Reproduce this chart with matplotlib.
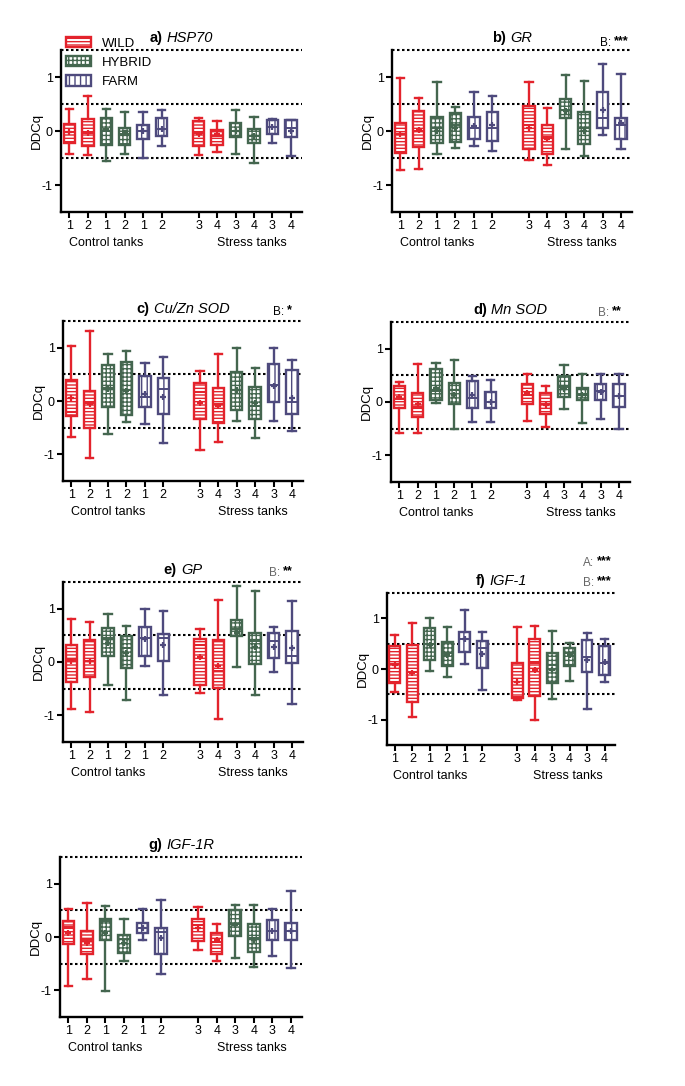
import matplotlib
matplotlib.use('Agg')  # Non-interactive backend
import matplotlib.pyplot as plt
from matplotlib.patches import Patch
from matplotlib.offsetbox import TextArea, HPacker, AnchoredOffsetbox

plt.rcParams['font.family'] = ['Liberation Sans', 'DejaVu Sans']
plt.rcParams['axes.unicode_minus'] = False
plt.rcParams['hatch.linewidth'] = 1.0

W, H = 685, 1086

# groups / categories
groups = ['WILD', 'HYBRID', 'FARM']
colors = {'WILD': '#e3232c', 'HYBRID': '#44664f', 'FARM': '#4e4a7d'}
hatches = {'WILD': '-----', 'HYBRID': '++++', 'FARM': '|||'}
tank_labels = ['1', '2', '1', '2', '1', '2', '3', '4', '3', '4', '3', '4']
box_group = ['WILD', 'WILD', 'HYBRID', 'HYBRID', 'FARM', 'FARM'] * 2
positions = [0, 1, 2, 3, 4, 5, 7, 8, 9, 10, 11, 12]

# box statistics per gene (12 boxes: control W1 W2 H1 H2 F1 F2, stress W3 W4 H3 H4 F3 F4)
hsp70 = dict(
    lo=[-0.43, -0.45, -0.56, -0.42, -0.50, -0.28, -0.45, -0.39, -0.42, -0.60, -0.23, -0.47],
    q1=[-0.22, -0.28, -0.25, -0.25, -0.15, -0.09, -0.28, -0.25, -0.12, -0.22, -0.06, -0.12],
    med=[-0.02, -0.03, 0.00, -0.06, 0.00, 0.03, -0.03, -0.09, 0.00, -0.09, 0.07, 0.06],
    q3=[0.13, 0.22, 0.25, 0.06, 0.12, 0.25, 0.19, 0.01, 0.14, 0.03, 0.20, 0.20],
    hi=[0.40, 0.65, 0.40, 0.35, 0.35, 0.38, 0.25, 0.19, 0.38, 0.26, 0.22, 0.20],
    mean=[-0.02, -0.03, 0.03, -0.03, 0.00, 0.03, -0.06, -0.06, 0.00, -0.09, 0.07, 0.00],
)
gr = dict(
    lo=[-0.72, -0.71, -0.42, -0.31, -0.27, -0.37, -0.53, -0.63, -0.34, -0.46, -0.08, -0.34],
    q1=[-0.40, -0.30, -0.22, -0.20, -0.14, -0.19, -0.34, -0.43, 0.25, -0.24, 0.06, -0.15],
    med=[-0.06, 0.00, 0.06, 0.12, 0.05, 0.06, 0.12, -0.12, 0.38, 0.06, 0.25, 0.11],
    q3=[0.15, 0.37, 0.26, 0.34, 0.26, 0.36, 0.46, 0.11, 0.60, 0.36, 0.72, 0.25],
    hi=[0.99, 0.61, 0.90, 0.45, 0.72, 0.65, 0.90, 0.42, 1.03, 0.93, 1.24, 1.05],
    mean=[-0.06, 0.02, 0.00, 0.06, 0.09, 0.11, 0.05, -0.14, 0.37, 0.00, 0.38, 0.15],
)
cuzn_sod = dict(
    lo=[-0.67, -1.06, -0.61, -0.39, -0.43, -0.79, -0.92, -0.76, -0.37, -0.69, -0.37, -0.56],
    q1=[-0.29, -0.51, -0.12, -0.26, -0.11, -0.24, -0.33, -0.42, -0.17, -0.34, -0.01, -0.24],
    med=[-0.20, -0.04, 0.24, 0.21, 0.07, 0.22, 0.16, -0.06, 0.21, -0.09, 0.30, -0.01],
    q3=[0.39, 0.19, 0.67, 0.74, 0.46, 0.44, 0.34, 0.24, 0.55, 0.27, 0.69, 0.58],
    hi=[1.03, 1.32, 0.89, 0.94, 0.71, 0.82, 0.57, 0.89, 1.00, 0.61, 0.99, 0.77],
    mean=[0.05, -0.06, 0.22, 0.18, 0.13, 0.08, -0.03, -0.09, 0.21, -0.04, 0.29, 0.06],
)
mn_sod = dict(
    lo=[-0.59, -0.59, -0.02, -0.50, -0.38, -0.38, -0.36, -0.47, -0.13, -0.39, -0.31, -0.50],
    q1=[-0.11, -0.29, 0.03, -0.03, -0.11, -0.11, -0.03, -0.23, 0.09, 0.04, 0.04, -0.09],
    med=[0.06, -0.09, 0.21, 0.22, 0.08, 0.00, 0.14, -0.04, 0.28, 0.14, 0.21, 0.11],
    q3=[0.30, 0.17, 0.61, 0.36, 0.39, 0.19, 0.33, 0.16, 0.48, 0.26, 0.34, 0.33],
    hi=[0.37, 0.71, 0.74, 0.79, 0.48, 0.42, 0.53, 0.30, 0.69, 0.52, 0.53, 0.53],
    mean=[0.09, -0.04, 0.27, 0.13, 0.13, 0.00, 0.17, -0.06, 0.25, 0.13, 0.19, 0.11],
)
gp = dict(
    lo=[-0.88, -0.94, -0.43, -0.71, -0.07, -0.61, -0.58, -1.07, -0.09, -0.61, -0.19, -0.78],
    q1=[-0.38, -0.28, 0.11, -0.11, 0.12, 0.01, -0.43, -0.49, 0.49, -0.03, 0.07, -0.02],
    med=[0.04, 0.01, 0.45, 0.26, 0.45, 0.45, 0.31, -0.17, 0.61, 0.39, 0.39, 0.11],
    q3=[0.31, 0.41, 0.64, 0.48, 0.66, 0.53, 0.44, 0.41, 0.78, 0.54, 0.54, 0.58],
    hi=[0.81, 0.75, 0.90, 0.67, 1.00, 0.95, 0.61, 1.17, 1.43, 1.34, 0.66, 1.15],
    mean=[0.01, 0.01, 0.36, 0.17, 0.43, 0.31, 0.09, -0.08, 0.54, 0.28, 0.29, 0.26],
)
igf1 = dict(
    lo=[-0.46, -0.94, -0.03, -0.16, 0.10, -0.41, -0.62, -1.00, -0.60, -0.24, -0.79, -0.25],
    q1=[-0.28, -0.66, 0.18, 0.05, 0.34, 0.01, -0.58, -0.54, -0.28, 0.05, -0.05, -0.12],
    med=[0.10, -0.05, 0.50, 0.31, 0.59, 0.41, -0.55, 0.12, 0.08, 0.31, 0.24, 0.11],
    q3=[0.46, 0.47, 0.80, 0.54, 0.73, 0.56, 0.12, 0.59, 0.31, 0.42, 0.57, 0.45],
    hi=[0.67, 0.90, 1.00, 0.82, 1.16, 0.73, 0.83, 0.85, 0.75, 0.52, 0.71, 0.60],
    mean=[0.08, -0.07, 0.47, 0.28, 0.59, 0.30, -0.25, -0.02, -0.02, 0.28, 0.18, 0.14],
)
igf1r = dict(
    lo=[-0.92, -0.78, -1.02, -0.45, -0.05, -0.70, -0.25, -0.45, -0.40, -0.57, -0.36, -0.59],
    q1=[-0.14, -0.31, -0.06, -0.30, 0.07, -0.32, -0.08, -0.31, 0.01, -0.28, -0.06, -0.05],
    med=[0.19, -0.06, 0.30, -0.03, 0.17, 0.09, 0.23, -0.09, 0.25, -0.01, 0.11, 0.11],
    q3=[0.30, 0.11, 0.34, 0.04, 0.27, 0.16, 0.34, 0.07, 0.51, 0.24, 0.32, 0.27],
    hi=[0.53, 0.63, 0.59, 0.33, 0.52, 0.70, 0.56, 0.25, 0.60, 0.60, 0.52, 0.86],
    mean=[0.07, -0.11, 0.07, -0.11, 0.17, -0.02, 0.16, -0.06, 0.22, -0.06, 0.11, 0.12],
)

fig = plt.figure(figsize=(W / 100, H / 100), dpi=100)


def draw_panel(rect, prefix, gene, d, ctrl_x=2.0, stress_x=9.9):
    l, t, r, b = rect  # pixel box of the axes
    ax = fig.add_axes([l / W, 1 - b / H, (r - l) / W, (b - t) / H])
    for y in (1.5, 0.5, -0.5):
        ax.axhline(y, color='black', ls=(0, (1.2, 1.2)), lw=1.5, clip_on=False, zorder=1)

    for i, pos in enumerate(positions):
        g = box_group[i]
        c = colors[g]
        st = [dict(whislo=d['lo'][i], q1=d['q1'][i], med=d['med'][i], q3=d['q3'][i],
                   whishi=d['hi'][i], mean=d['mean'][i], fliers=[])]
        ax.bxp(st, positions=[pos], widths=0.62, capwidths=0.4, patch_artist=True,
               showmeans=True, manage_ticks=False, zorder=3,
               boxprops=dict(facecolor='white', edgecolor=c, hatch=hatches[g], lw=1.7),
               whiskerprops=dict(color=c, lw=1.7),
               capprops=dict(color=c, lw=1.7),
               medianprops=dict(color=c, lw=1.4),
               meanprops=dict(marker='+', markeredgecolor=c, markersize=5, mew=1.6))

    ax.set_xlim(-0.45, 12.6)
    ax.set_ylim(-1.5, 1.5)
    ax.set_yticks([-1, 0, 1])
    ax.set_yticklabels(['-1', '0', '1'])
    ax.set_xticks(positions)
    ax.set_xticklabels(tank_labels)
    ax.tick_params(labelsize=9, length=4, width=1.5, pad=2)
    ax.spines['top'].set_visible(False)
    ax.spines['right'].set_visible(False)
    ax.spines['left'].set_linewidth(1.7)
    ax.spines['bottom'].set_linewidth(1.7)
    ax.set_ylabel('DDCq', fontsize=9.5, labelpad=-1)

    for x, lab in ((ctrl_x, 'Control tanks'), (stress_x, 'Stress tanks')):
        ax.annotate(lab, xy=(x, 0), xycoords=('data', 'axes fraction'),
                    xytext=(0, -22), textcoords='offset points',
                    ha='center', va='center', fontsize=9)

    # title: bold prefix + italic gene name
    t1 = TextArea(prefix, textprops=dict(fontweight='bold', fontsize=10.5))
    t2 = TextArea(gene, textprops=dict(style='italic', fontsize=10.5))
    pack = HPacker(children=[t1, t2], sep=3, pad=0, align='baseline')
    ab = AnchoredOffsetbox(loc='center', child=pack, frameon=False, pad=0, borderpad=0,
                           bbox_to_anchor=(0.5, 1 + 12 / (b - t)), bbox_transform=ax.transAxes)
    ax.add_artist(ab)
    return ax


ax_a = draw_panel((61, 50, 302, 212), 'a)', 'HSP70', hsp70)
draw_panel((392, 50, 632, 212), 'b)', 'GR', gr)
draw_panel((63, 321, 303, 481), 'c)', 'Cu/Zn SOD', cuzn_sod)
draw_panel((391, 322, 630, 482), 'd)', 'Mn SOD', mn_sod)
draw_panel((63, 582, 303, 742), 'e)', 'GP', gp)
draw_panel((387, 593, 615, 745), 'f)', 'IGF-1', igf1)
draw_panel((60, 857, 302, 1017), 'g)', 'IGF-1R', igf1r)

# significance notes
notes = [
    (600, 43, 'B:', '***', 'black'),
    (273, 312, 'B:', '*', 'black'),
    (598, 313, 'B:', '**', '#666666'),
    (269, 573, 'B:', '**', '#666666'),
    (583, 563, 'A:', '***', '#666666'),
    (583, 583, 'B:', '***', '#666666'),
]
for x, y, lab, stars, col in notes:
    fig.text(x / W, 1 - y / H, lab, color=col, fontsize=8.5, ha='left', va='center')
    fig.text((x + 14) / W, 1 - (y - 2) / H, stars, color='black', fontsize=9,
             fontweight='bold', ha='left', va='center')

handles = [Patch(facecolor='white', edgecolor=colors[g], hatch=hatches[g], lw=1.7) for g in groups]
fig.legend(handles, groups, loc='upper left', bbox_to_anchor=(66 / W, 1 - 37 / H),
           frameon=False, fontsize=9.5, handlelength=1.9, handleheight=0.8,
           handletextpad=0.8, labelspacing=0.5, borderpad=0, borderaxespad=0)

fig.savefig('out.png', dpi=100)
